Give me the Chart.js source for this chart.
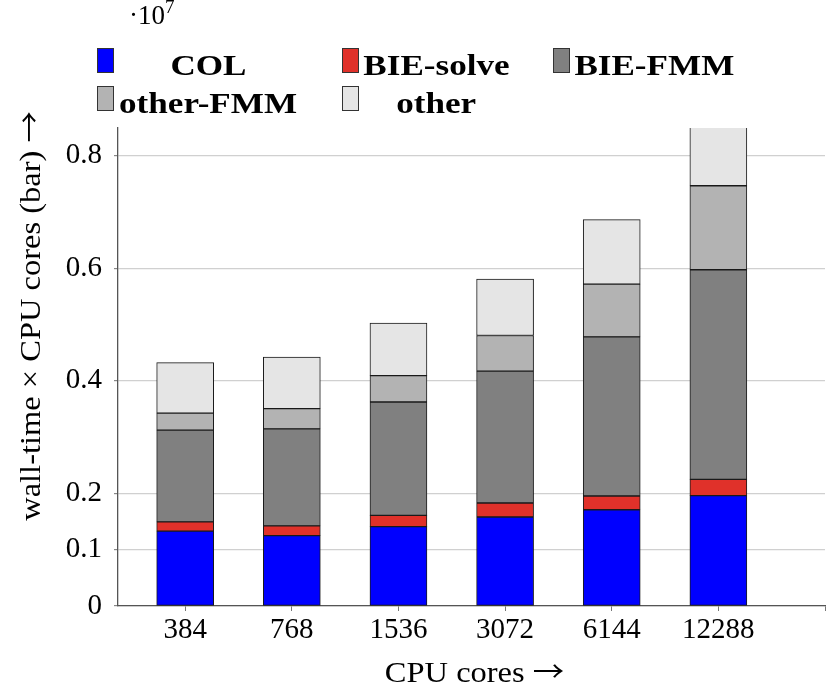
<!DOCTYPE html>
<html>
<head>
<meta charset="utf-8">
<script src="https://cdn.jsdelivr.net/npm/chart.js@4"></script>
<style>
  body { margin: 0; background: #fff; }
  #wrap { position: relative; width: 827px; height: 691px; font-family: "Liberation Serif", serif; color: #000; }
  #chart { position: absolute; left: 0; top: 0; }
  #expo { position: absolute; left: 129px; top: 2px; font-size: 27px; line-height: 27px; }
  #expo sup { font-size: 19px; vertical-align: 11px; line-height: 0; }
  #legend { position: absolute; left: 97px; top: 46px; display: grid;
            grid-template-columns: 201px 167px 181px; column-gap: 44px; grid-auto-rows: 37.5px; }
  .item { display: flex; align-items: flex-start; }
  .box { width: 15px; height: 23px; margin-top: 2px; border: 1px solid #333; flex: none; }
  .lbl { flex: 1; margin-left: 5px; text-align: center; font-weight: bold; font-size: 30px; line-height: 37.5px; white-space: nowrap; }
  .lbl span { display: inline-block; transform: scaleX(1.17); }
</style>
</head>
<body>
<div id="wrap">
  <canvas id="chart" width="827" height="691"></canvas>
  <div id="expo">&middot;10<sup>7</sup></div>
  <div id="legend"></div>
</div>
<script>
// wall-time x cores, in units of 1e7
const categories = ['384', '768', '1536', '3072', '6144', '12288']
const col = [0.133, 0.125, 0.141, 0.158, 0.171, 0.196]
const bieSolve = [0.0165, 0.0172, 0.0201, 0.0249, 0.0243, 0.029]
const bieFmm = [0.1628, 0.1723, 0.2013, 0.2343, 0.2828, 0.3723]
const otherFmm = [0.0302, 0.036, 0.0467, 0.0632, 0.0936, 0.1491]
const other = [0.0898, 0.0918, 0.0935, 0.1002, 0.1147, 0.13]
const yTicks = [0, 0.1, 0.2, 0.4, 0.6, 0.8]

const seriesNames = ['COL', 'BIE-solve', 'BIE-FMM', 'other-FMM', 'other']
const seriesValues = [col, bieSolve, bieFmm, otherFmm, other]
const seriesColors = ['#0000ff', '#e0312a', '#808080', '#b3b3b3', '#e5e5e5']

const xTitle = 'CPU cores'
const yTitle = 'wall-time \u00d7 CPU cores (bar)'

Chart.defaults.font.family = '"Liberation Serif", serif'
Chart.defaults.color = '#000'

const datasets = seriesNames.map((name, k) => ({
    label: name,
    data: seriesValues[k].map((v, i) => ({ x: i, y: v })),
    backgroundColor: seriesColors[k],
    borderColor: '#1a1a1a',
    borderWidth: 1,
    borderSkipped: false,
    barThickness: 57,
    stack: 'cores'
}))

// axis title with a long thin arrow (Liberation's arrow is tiny)
function drawTitle(ctx, text, x, y, angle) {
    const textFont = '29px "Liberation Serif", serif'
    const arrowFont = '28px "Noto Sans CJK JP", "DejaVu Serif", serif'
    const stretch = 1.12
    ctx.save()
    ctx.translate(x, y)
    ctx.rotate(angle)
    ctx.scale(stretch, 1)
    ctx.fillStyle = '#000'
    ctx.textBaseline = 'alphabetic'
    ctx.textAlign = 'left'
    ctx.font = textFont
    const w1 = ctx.measureText(text + ' ').width
    ctx.font = arrowFont
    const w2 = ctx.measureText('\u2192').width
    const start = -(w1 + w2) / 2
    ctx.font = textFont
    ctx.fillText(text + ' ', start, 0)
    ctx.font = arrowFont
    ctx.fillText('\u2192', start + w1, 0)
    ctx.restore()
}

const titlesPlugin = {
    id: 'titles',
    afterDraw(chart) {
        const ctx = chart.ctx
        const area = chart.chartArea
        drawTitle(ctx, xTitle, (area.left + area.right) / 2 + 3, 682, 0)
        drawTitle(ctx, yTitle, 40, 316, -Math.PI / 2)
    }
}

const ctx = document.getElementById('chart').getContext('2d')
const chart = new Chart(ctx, {
    type: 'bar',
    data: { datasets: datasets },
    options: {
        responsive: false,
        animation: false,
        layout: { padding: { top: 128, left: 0, right: 0, bottom: 0 } },
        plugins: {
            legend: { display: false },
            tooltip: { enabled: false }
        },
        scales: {
            x: {
                type: 'linear',
                min: -0.63,
                max: 6,
                offset: false,
                afterBuildTicks: axis => {
                    axis.ticks = [0, 1, 2, 3, 4, 5, 6].map(v => ({ value: v }))
                },
                afterFit: axis => { axis.height = 85 },
                ticks: {
                    font: { size: 29 },
                    padding: 2,
                    maxRotation: 0,
                    autoSkip: false,
                    callback: v => categories[v] ?? ''
                },
                grid: {
                    drawOnChartArea: false,
                    drawTicks: true,
                    tickLength: 5,
                    color: '#777',
                    offset: false
                },
                border: { color: '#555', width: 1.3 }
            },
            y: {
                stacked: true,
                min: 0,
                max: 0.849,
                afterBuildTicks: axis => {
                    axis.ticks = yTicks.map(v => ({ value: v }))
                },
                afterFit: axis => { axis.width = 118 },
                ticks: {
                    font: { size: 29 },
                    padding: 12,
                    callback: v => String(v)
                },
                grid: {
                    color: '#d0d0d0',
                    lineWidth: 1.2,
                    tickLength: 4,
                    tickColor: '#888'
                },
                border: { color: '#555', width: 1.3 }
            }
        }
    },
    plugins: [titlesPlugin]
})

// legend in the same 3-column layout as the original
const legend = document.getElementById('legend')
chart.data.datasets.forEach(ds => {
    const item = document.createElement('div')
    item.className = 'item'
    const box = document.createElement('div')
    box.className = 'box'
    box.style.background = ds.backgroundColor
    const lbl = document.createElement('div')
    lbl.className = 'lbl'
    const span = document.createElement('span')
    span.textContent = ds.label
    lbl.appendChild(span)
    item.appendChild(box)
    item.appendChild(lbl)
    legend.appendChild(item)
})
</script>
</body>
</html>
